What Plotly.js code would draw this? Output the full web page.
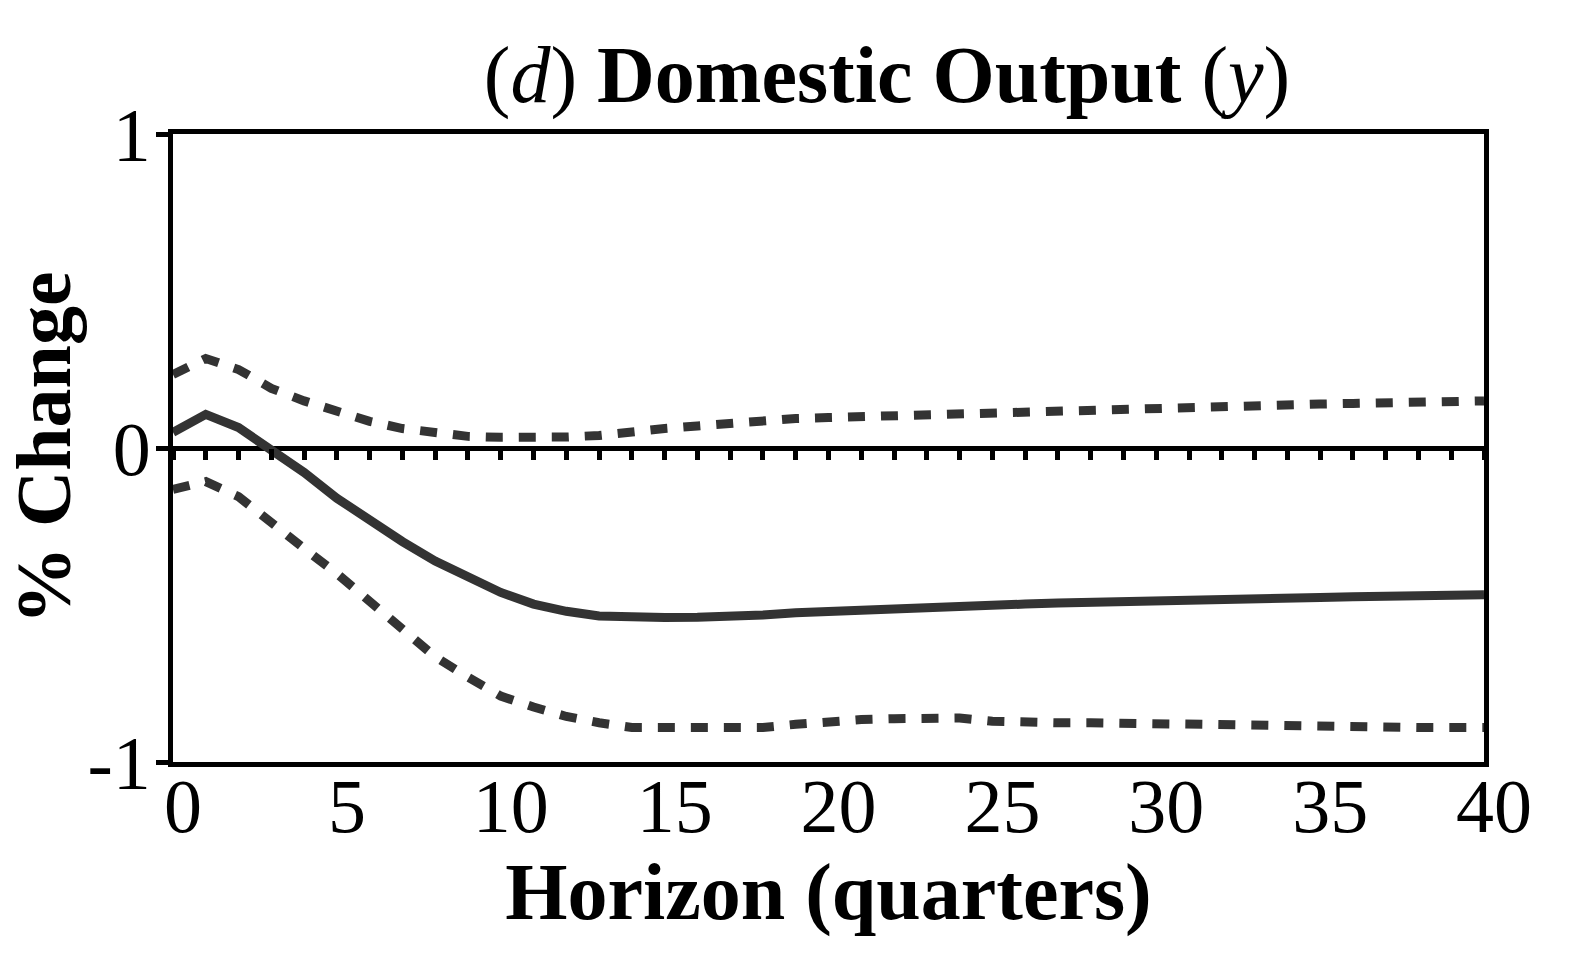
<!DOCTYPE html>
<html>
<head>
<meta charset="utf-8">
<script src="https://cdn.plot.ly/plotly-3.0.1.min.js"></script>
<style>html,body{margin:0;padding:0;background:#fff;}#chart{width:1569px;height:967px;}</style>
</head>
<body>
<div id="chart"></div>
<script>
const horizon = [0,1,2,3,4,5,6,7,8,9,10,11,12,13,14,15,16,17,18,19,20,21,22,23,24,25,26,27,28,29,30,31,32,33,34,35,36,37,38,39,40];
const median = [0.05,0.107,0.065,-0.006,-0.078,-0.16,-0.232,-0.298,-0.36,-0.413,-0.46,-0.497,-0.52,-0.535,-0.54,-0.54,-0.539,-0.537,-0.532,-0.525,-0.52,-0.515,-0.51,-0.505,-0.502,-0.5,-0.497,-0.494,-0.491,-0.488,-0.486,-0.484,-0.482,-0.48,-0.478,-0.476,-0.474,-0.472,-0.47,-0.468,-0.467];
const upper = [0.234,0.285,0.25,0.19,0.15,0.117,0.085,0.062,0.046,0.037,0.034,0.033,0.035,0.04,0.053,0.062,0.07,0.08,0.088,0.094,0.097,0.1,0.106,0.11,0.113,0.116,0.12,0.123,0.125,0.127,0.129,0.131,0.133,0.136,0.138,0.14,0.142,0.144,0.146,0.148,0.15];
const lower = [-0.132,-0.107,-0.155,-0.24,-0.32,-0.40,-0.49,-0.58,-0.665,-0.73,-0.79,-0.825,-0.855,-0.875,-0.89,-0.89,-0.89,-0.89,-0.89,-0.88,-0.87,-0.865,-0.862,-0.862,-0.86,-0.87,-0.875,-0.875,-0.875,-0.877,-0.88,-0.882,-0.884,-0.886,-0.886,-0.887,-0.888,-0.889,-0.89,-0.89,-0.89];
const xTicks = [0,5,10,15,20,25,30,35,40];
const yTicks = [-1,0,1];

const FONT = "Liberation Serif, 'Times New Roman', serif";
const lineColor = '#333333';

const traces = [
  {x: horizon, y: upper, mode: 'lines', line: {color: lineColor, width: 9, dash: '17px,16px'}, showlegend: false, hoverinfo: 'skip'},
  {x: horizon, y: lower, mode: 'lines', line: {color: lineColor, width: 9, dash: '17px,16px'}, showlegend: false, hoverinfo: 'skip'},
  {x: horizon, y: median, mode: 'lines', line: {color: lineColor, width: 9}, showlegend: false, hoverinfo: 'skip', cliponaxis: false},
  {x: horizon, y: median, xaxis: 'x2', mode: 'lines', line: {width: 0}, opacity: 0, showlegend: false, hoverinfo: 'skip'}
];

const layout = {
  width: 1569, height: 967,
  paper_bgcolor: '#fff', plot_bgcolor: '#fff',
  margin: {l: 173, r: 85, t: 134, b: 205},
  font: {family: FONT, color: '#000'},
  title: {
    text: '(<i>d</i>) <b>Domestic Output</b> (<i>y</i>)',
    font: {family: FONT, size: 80, color: '#000'},
    x: 887/1569, xref: 'container', xanchor: 'center',
    y: 1 - 74/967, yref: 'container', yanchor: 'middle'
  },
  xaxis: {
    range: [0, 40], tickvals: xTicks, ticktext: xTicks.map(String),
    ticks: '', showgrid: false, zeroline: false,
    showline: true, linecolor: '#000', linewidth: 5, mirror: true,
    tickfont: {family: FONT, size: 76, color: '#000'},
    ticklabelshift: 10, ticklabelstandoff: -26,
    title: {text: '<b>Horizon (quarters)</b>', font: {family: FONT, size: 80, color: '#000'}, standoff: 0},
    fixedrange: true
  },
  xaxis2: {
    range: [0, 40], overlaying: 'x', anchor: 'free', position: 0.5, side: 'bottom',
    dtick: 1, tick0: 0, ticks: 'outside', ticklen: 11, tickwidth: 5, tickcolor: '#000',
    showticklabels: false, showgrid: false, zeroline: false, showline: false,
    fixedrange: true
  },
  yaxis: {
    range: [-1, 1], tickvals: yTicks, ticktext: yTicks.map(String),
    ticks: 'outside', ticklen: 12, tickwidth: 5, tickcolor: '#000',
    showgrid: false, zeroline: true, zerolinecolor: '#000', zerolinewidth: 5,
    showline: true, linecolor: '#000', linewidth: 5, mirror: true,
    tickfont: {family: FONT, size: 76, color: '#000'},
    ticklabelstandoff: -10,
    title: {text: '<b>% Change</b>', font: {family: FONT, size: 78, color: '#000'}, standoff: 10},
    fixedrange: true
  }
};

Plotly.newPlot('chart', traces, layout, {displayModeBar: false, staticPlot: true});
</script>
</body>
</html>
